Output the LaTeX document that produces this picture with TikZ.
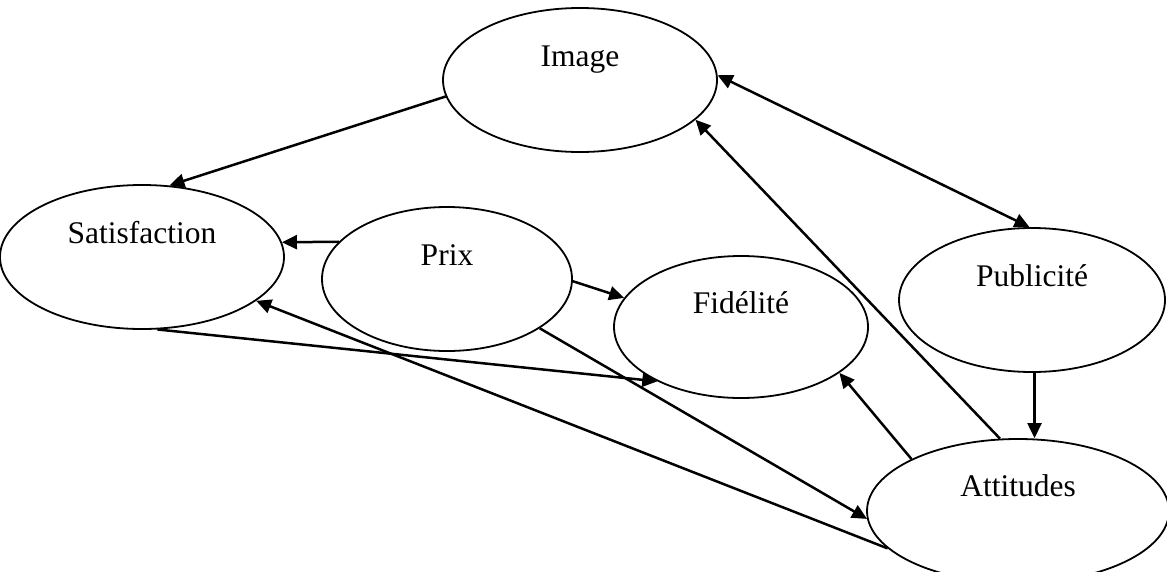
\documentclass[tikz,border=0pt]{standalone}
\usepackage{fontspec}
\setmainfont{Liberation Serif}
\usetikzlibrary{shapes.geometric,arrows.meta}
\tikzset{
  bubble/.style={ellipse, draw, line width=1.8pt, inner sep=0pt},
  caption/.style={anchor=base, font=\fontsize{31.5}{36}\selectfont},
  tip/.style={Triangle[length=15pt,width=14pt]},
  link/.style={line width=2.5pt, -{Triangle[length=15pt,width=14pt]}},
  duplex/.style={line width=2.5pt, {Triangle[length=15pt,width=14pt]}-{Triangle[length=15pt,width=14pt]}}
}
\begin{document}
\begin{tikzpicture}[x=1pt,y=-1pt]
\useasboundingbox (0,0) rectangle (1167,571);

% concept ellipses
\node[bubble, minimum width=274pt, minimum height=144pt] (img) at (580,80) {};
\node[bubble, minimum width=284pt, minimum height=144pt] (sat) at (142,257) {};
\node[bubble, minimum width=250pt, minimum height=144pt] (prix) at (447,279) {};
\node[bubble, minimum width=254pt, minimum height=142pt] (fid) at (741,327) {};
\node[bubble, minimum width=266pt, minimum height=144pt] (pub) at (1032,300) {};
\node[bubble, minimum width=302pt, minimum height=144pt] (att) at (1018,511) {};

% labels sit in the upper half of each ellipse
\node[caption] (timg) at ([yshift=13.5pt]img.center) {Image};
\node[caption] (tsat) at ([yshift=13.5pt]sat.center) {Satisfaction};
\node[caption] (tprix) at ([yshift=13.5pt]prix.center) {Prix};
\node[caption] (tfid) at ([yshift=13.5pt]fid.center) {Fidélité};
\node[caption] (tpub) at ([yshift=13.5pt]pub.center) {Publicité};
\node[caption] (tatt) at ([yshift=14.5pt]att.center) {Attitudes};

% relations
\draw[link] (img.187) -- (sat.69);
\draw[duplex] (img.2) -- (pub.92);
\draw[link] (att.104) -- (img.-19);
\draw[link] (pub.-88) -- (pub.-88 |- att.north);
\draw[link] (att.154) -- (fid.-25);
\draw[link] (prix.161) -- (sat.6);
\draw[link] (prix.-1) -- (fid.166);
\draw[link] (sat.-78) -- (fid.213);
\draw[link] (prix.-28) -- (att.183);
\draw[link] (att.196) -- (sat.-21);
\end{tikzpicture}
\end{document}
